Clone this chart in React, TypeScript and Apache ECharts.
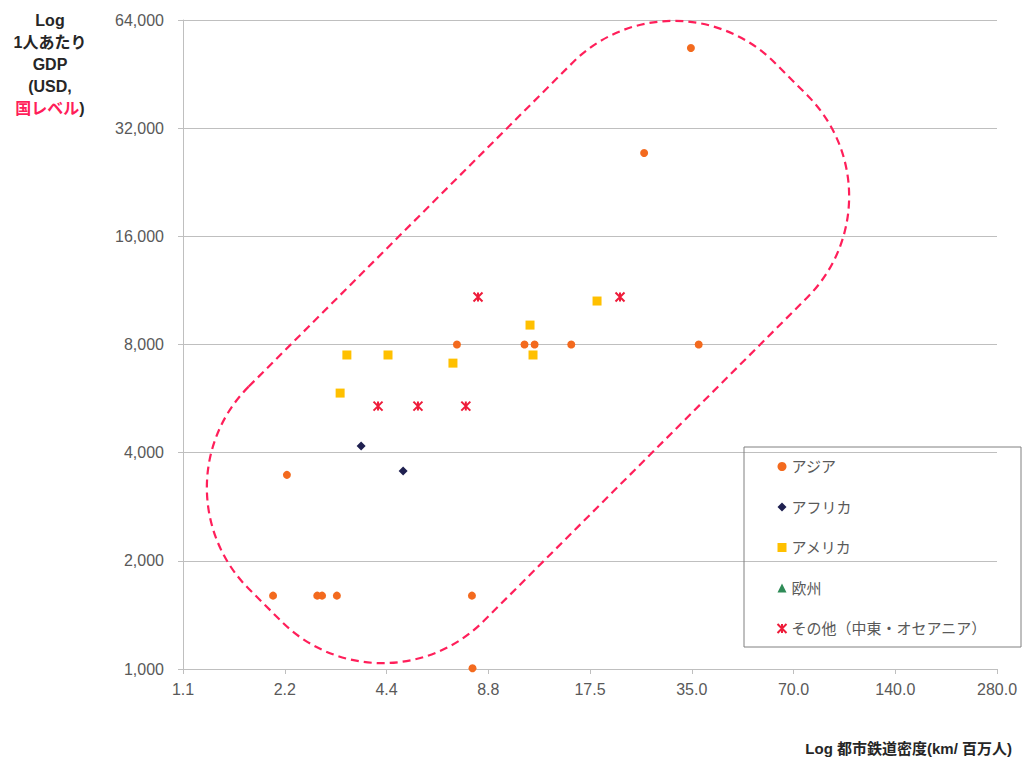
import React, { useEffect, useRef } from 'react';
import * as echarts from 'echarts';

// Axis tick labels (log base 2 axes)
const xTickLabels = ['1.1', '2.2', '4.4', '8.8', '17.5', '35.0', '70.0', '140.0', '280.0'];
const yTickLabels = ['1,000', '2,000', '4,000', '8,000', '16,000', '32,000', '64,000'];
const X_MIN = 1.09375;
const Y_MIN = 1000;

const seriesNames = ['アジア', 'アフリカ', 'アメリカ', '欧州', 'その他（中東・オセアニア）'];

// [urban rail density (km / million people), GDP per capita (USD)]
const asia: [number, number][] = [
  [34.8, 53500],
  [25.3, 27300],
  [36.7, 8000],
  [15.4, 8000],
  [12.0, 8000],
  [11.2, 8000],
  [7.07, 8000],
  [2.22, 3470],
  [2.02, 1600],
  [2.73, 1600],
  [2.82, 1600],
  [3.12, 1600],
  [7.83, 1600],
  [7.86, 1005],
];
const africa: [number, number][] = [
  [3.68, 4175],
  [4.9, 3556],
];
const america: [number, number][] = [
  [3.34, 7480],
  [4.42, 7480],
  [6.88, 7100],
  [3.19, 5860],
  [11.63, 9060],
  [11.87, 7480],
  [18.36, 10570],
];
const europe: [number, number][] = [];
const others: [number, number][] = [
  [8.16, 10850],
  [4.13, 5390],
  [5.42, 5390],
  [7.51, 5390],
  [21.47, 10850],
];

const lx = (v: number) => Math.log2(v / X_MIN);
const ly = (v: number) => Math.log2(v / Y_MIN);
const toPts = (arr: [number, number][]) => arr.map(([x, y]) => [lx(x), ly(y)]);

const FONT = "'Liberation Sans', 'Noto Sans CJK JP', sans-serif";
const STAR = 'path://M0,0L10,10M10,0L0,10M5,0L5,10';

export default function App() {
  const ref = useRef<HTMLDivElement>(null);
  useEffect(() => {
    if (!ref.current) return;
    const chart = echarts.init(ref.current, undefined, { renderer: 'svg' });
    chart.setOption({
      animation: false,
      backgroundColor: '#ffffff',
      grid: { left: 183, right: 26, top: 20, bottom: 94 },
      xAxis: {
        type: 'value',
        min: 0,
        max: 8,
        interval: 1,
        axisLine: { show: true, lineStyle: { color: '#BFBFBF', width: 1 } },
        axisTick: { show: true, length: 5, lineStyle: { color: '#BFBFBF' } },
        splitLine: { show: false },
        axisLabel: {
          formatter: (v: number) => xTickLabels[Math.round(v)] ?? '',
          color: '#595959',
          fontSize: 16,
          fontFamily: FONT,
          margin: 12,
        },
      },
      yAxis: {
        type: 'value',
        min: 0,
        max: 6,
        interval: 1,
        axisLine: { show: true, lineStyle: { color: '#BFBFBF', width: 1 } },
        axisTick: { show: true, length: 5, lineStyle: { color: '#BFBFBF' } },
        splitLine: { show: true, lineStyle: { color: '#BFBFBF', width: 1 } },
        axisLabel: {
          formatter: (v: number) => yTickLabels[Math.round(v)] ?? '',
          color: '#595959',
          fontSize: 16,
          fontFamily: FONT,
          margin: 19,
        },
      },
      legend: {
        orient: 'vertical',
        left: 770,
        top: 453,
        itemWidth: 9,
        itemHeight: 9,
        itemGap: 23.5,
        textStyle: { color: '#595959', fontSize: 15, fontFamily: FONT, lineHeight: 17 },
        data: seriesNames,
      },
      series: [
        {
          name: seriesNames[0],
          type: 'scatter',
          symbol: 'circle',
          symbolSize: 8,
          itemStyle: { color: '#F36A1E', opacity: 1 },
          data: toPts(asia),
        },
        {
          name: seriesNames[1],
          type: 'scatter',
          symbol: 'diamond',
          symbolSize: 9,
          itemStyle: { color: '#1F2050', opacity: 1 },
          data: toPts(africa),
        },
        {
          name: seriesNames[2],
          type: 'scatter',
          symbol: 'rect',
          symbolSize: 9,
          itemStyle: { color: '#FFC000', opacity: 1 },
          data: toPts(america),
        },
        {
          name: seriesNames[3],
          type: 'scatter',
          symbol: 'triangle',
          symbolSize: 9,
          itemStyle: { color: '#2E8B57', opacity: 1 },
          data: toPts(europe),
        },
        {
          name: seriesNames[4],
          type: 'scatter',
          symbol: STAR,
          symbolSize: 9,
          itemStyle: { color: 'none', borderColor: '#EE1C3A', borderWidth: 2, opacity: 1 },
          data: toPts(others),
        },
      ],
      graphic: [
        {
          type: 'rect',
          silent: true,
          z: 1,
          shape: { x: 744, y: 447, width: 277, height: 200 },
          style: { fill: 'none', stroke: '#808080', lineWidth: 1 },
        },
        {
          type: 'rect',
          silent: true,
          z: 100,
          x: 528,
          y: 342,
          rotation: Math.PI / 4,
          shape: { x: -372, y: -166, width: 744, height: 332, r: 143 },
          style: { fill: 'none', stroke: '#FF1F5A', lineWidth: 2.2, lineDash: [8, 5] },
        },
        {
          type: 'text',
          silent: true,
          x: 50,
          y: 9,
          style: {
            text: '{b|Log}\n{b|1人あたり}\n{b|GDP}\n{b|(USD,}\n{r|国レベル}{b|)}',
            align: 'center',
            verticalAlign: 'top',
            rich: {
              b: { fontSize: 16, fontWeight: 'bold', fill: '#262626', fontFamily: FONT, lineHeight: 22 },
              r: { fontSize: 16, fontWeight: 'bold', fill: '#FF1E5A', fontFamily: FONT, lineHeight: 22 },
            },
          },
        },
        {
          type: 'text',
          silent: true,
          x: 1012,
          y: 748,
          style: {
            text: 'Log 都市鉄道密度(km/ 百万人)',
            align: 'right',
            verticalAlign: 'middle',
            fontSize: 15,
            fontWeight: 'bold',
            fill: '#262626',
            fontFamily: FONT,
          },
        },
      ],
    });
    return () => chart.dispose();
  }, []);
  return (
    <div
      ref={ref}
      style={{ position: 'fixed', left: 0, top: 0, width: 1023, height: 763, background: '#fff' }}
    />
  );
}
